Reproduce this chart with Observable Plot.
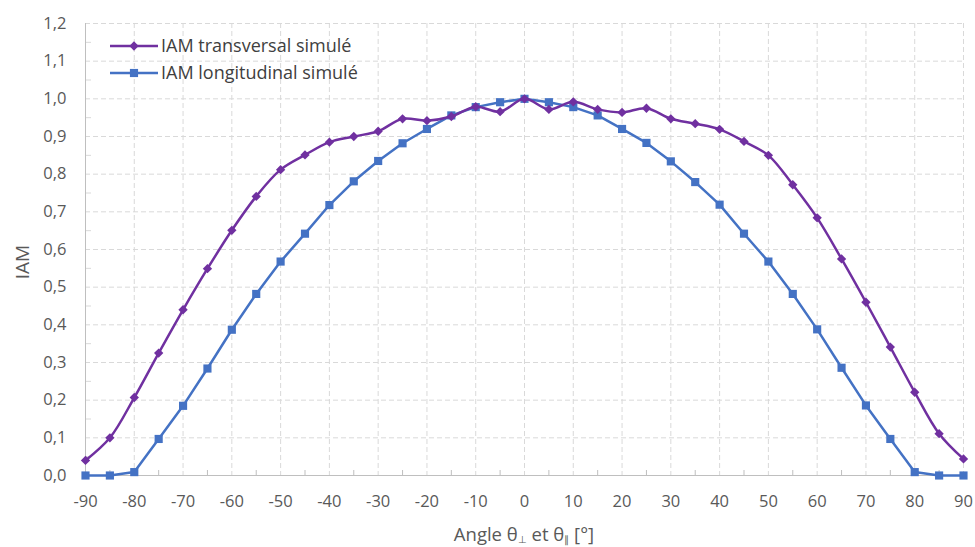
<!DOCTYPE html>
<html>
<head>
<meta charset="utf-8">
<script src="https://cdn.jsdelivr.net/npm/d3@7"></script>
<script src="https://cdn.jsdelivr.net/npm/@observablehq/plot@0.6"></script>
<style>
  html, body { margin: 0; padding: 0; background: #ffffff; }
  #chart { width: 975px; height: 547px; }
</style>
</head>
<body>
<div id="chart"></div>
<script>
// ---- data ----
const angles = [-90,-85,-80,-75,-70,-65,-60,-55,-50,-45,-40,-35,-30,-25,-20,-15,-10,-5,0,5,10,15,20,25,30,35,40,45,50,55,60,65,70,75,80,85,90];
const iamTransversal = [0.04,0.10,0.207,0.325,0.44,0.549,0.651,0.741,0.812,0.851,0.885,0.90,0.914,0.947,0.942,0.953,0.979,0.966,1.0,0.972,0.992,0.972,0.964,0.975,0.947,0.934,0.919,0.887,0.85,0.772,0.684,0.575,0.46,0.341,0.221,0.111,0.044];
const iamLongitudinal = [0.0,0.0,0.009,0.097,0.185,0.284,0.387,0.482,0.568,0.642,0.718,0.781,0.835,0.882,0.92,0.956,0.978,0.991,1.0,0.991,0.978,0.956,0.92,0.883,0.834,0.779,0.719,0.642,0.568,0.482,0.388,0.286,0.186,0.097,0.009,0.0,0.0];
const seriesNames = ["IAM transversal simulé", "IAM longitudinal simulé"];
const seriesColors = ["#7030A0", "#4472C4"];
const xTicks = d3.range(-90, 91, 10);
const xMinorTicks = d3.range(-85, 90, 10);
const yTicks = d3.range(0, 13).map(i => i / 10);
const yMinorTicks = d3.range(0, 12).map(i => i / 10 + 0.05);
const yLabel = "IAM";

const rowsT = angles.map((a, i) => ({angle: a, iam: iamTransversal[i]}));
const rowsL = angles.map((a, i) => ({angle: a, iam: iamLongitudinal[i]}));

const W = 975, H = 547, mL = 85, mR = 12, mT = 23, mB = 72;
const innerW = W - mL - mR, innerH = H - mT - mB;
const gridColor = "#d9d9d9";
const axisColor = "#bfbfbf";
const fmt = d => d3.format(".1f")(d).replace(".", ",");
const FONT = "'Open Sans', sans-serif";

const chart = Plot.plot({
  width: W, height: H,
  marginLeft: mL, marginRight: mR, marginTop: mT, marginBottom: mB,
  style: {fontFamily: FONT, fontSize: "16.5px", color: "#595959", background: "#ffffff"},
  x: {domain: [-90, 90]},
  y: {domain: [0, 1.2]},
  marks: [
    Plot.gridY(yTicks, {stroke: gridColor, strokeOpacity: 1, strokeDasharray: "5,3", strokeWidth: 1}),
    Plot.gridX(xTicks, {stroke: gridColor, strokeOpacity: 1, strokeDasharray: "5,3", strokeWidth: 1}),
    Plot.tickY(yMinorTicks, {y: d => d, stroke: gridColor, insetRight: innerW - 6}),
    Plot.tickX(xMinorTicks, {x: d => d, stroke: axisColor, insetTop: innerH - 5}),
    Plot.ruleY([0], {stroke: axisColor, strokeWidth: 1}),
    Plot.ruleX([-90], {stroke: axisColor, strokeWidth: 1}),
    Plot.axisY(yTicks, {tickSize: 0, tickPadding: 19, tickFormat: fmt, fill: "#595959", fontSize: 16.5, label: null}),
    Plot.axisX(xTicks, {tickSize: 0, tickPadding: 20, tickFormat: d => String(d), fill: "#595959", fontSize: 16.5, label: null}),
    Plot.line(rowsL, {x: "angle", y: "iam", stroke: seriesColors[1], strokeWidth: 2.5}),
    Plot.dot(rowsL, {x: "angle", y: "iam", symbol: "square", r: 4.6, fill: seriesColors[1], stroke: "none"}),
    Plot.line(rowsT, {x: "angle", y: "iam", stroke: seriesColors[0], strokeWidth: 2.5, curve: "catmull-rom"}),
    Plot.dot(rowsT, {x: "angle", y: "iam", symbol: "diamond2", r: 4.2, fill: seriesColors[0], stroke: "none"})
  ]
});

document.getElementById("chart").appendChild(chart);
const svg = d3.select(chart);

// y axis label
svg.append("text")
  .attr("transform", "translate(22,262) rotate(-90)")
  .attr("text-anchor", "middle")
  .attr("dy", "0.35em")
  .attr("fill", "#595959")
  .style("font-size", "19px")
  .style("font-family", FONT)
  .text(yLabel);

// x axis label with subscripts
const xl = svg.append("text")
  .attr("x", 524).attr("y", 541)
  .attr("text-anchor", "middle")
  .attr("fill", "#595959")
  .style("font-size", "18.5px")
  .style("font-family", FONT);
xl.append("tspan").text("Angle θ");
xl.append("tspan").attr("dy", 2).style("font-size", "10px").text("⊥");
xl.append("tspan").attr("dy", -2).text(" et θ");
xl.append("tspan").attr("dy", 2).style("font-size", "10px").text("∥");
xl.append("tspan").attr("dy", -2).text(" [°]");

// legend inside plot area
const leg = svg.append("g").attr("font-family", FONT).attr("font-size", 18).attr("text-anchor", "start");
seriesNames.forEach((name, i) => {
  const y = 46 + i * 27;
  const g = leg.append("g");
  g.append("line").attr("x1", 110).attr("x2", 158).attr("y1", y).attr("y2", y)
    .attr("stroke", seriesColors[i]).attr("stroke-width", 2.5);
  const sym = i === 0 ? d3.symbol(d3.symbolDiamond2, 4.2 * 4.2 * Math.PI) : d3.symbol(d3.symbolSquare, 4.6 * 4.6 * Math.PI);
  g.append("path").attr("d", sym()).attr("transform", `translate(134,${y})`).attr("fill", seriesColors[i]);
  g.append("text").attr("x", 161).attr("y", y).attr("dy", "0.35em").attr("text-anchor", "start")
    .attr("fill", "#404040").text(name);
});
</script>
</body>
</html>
